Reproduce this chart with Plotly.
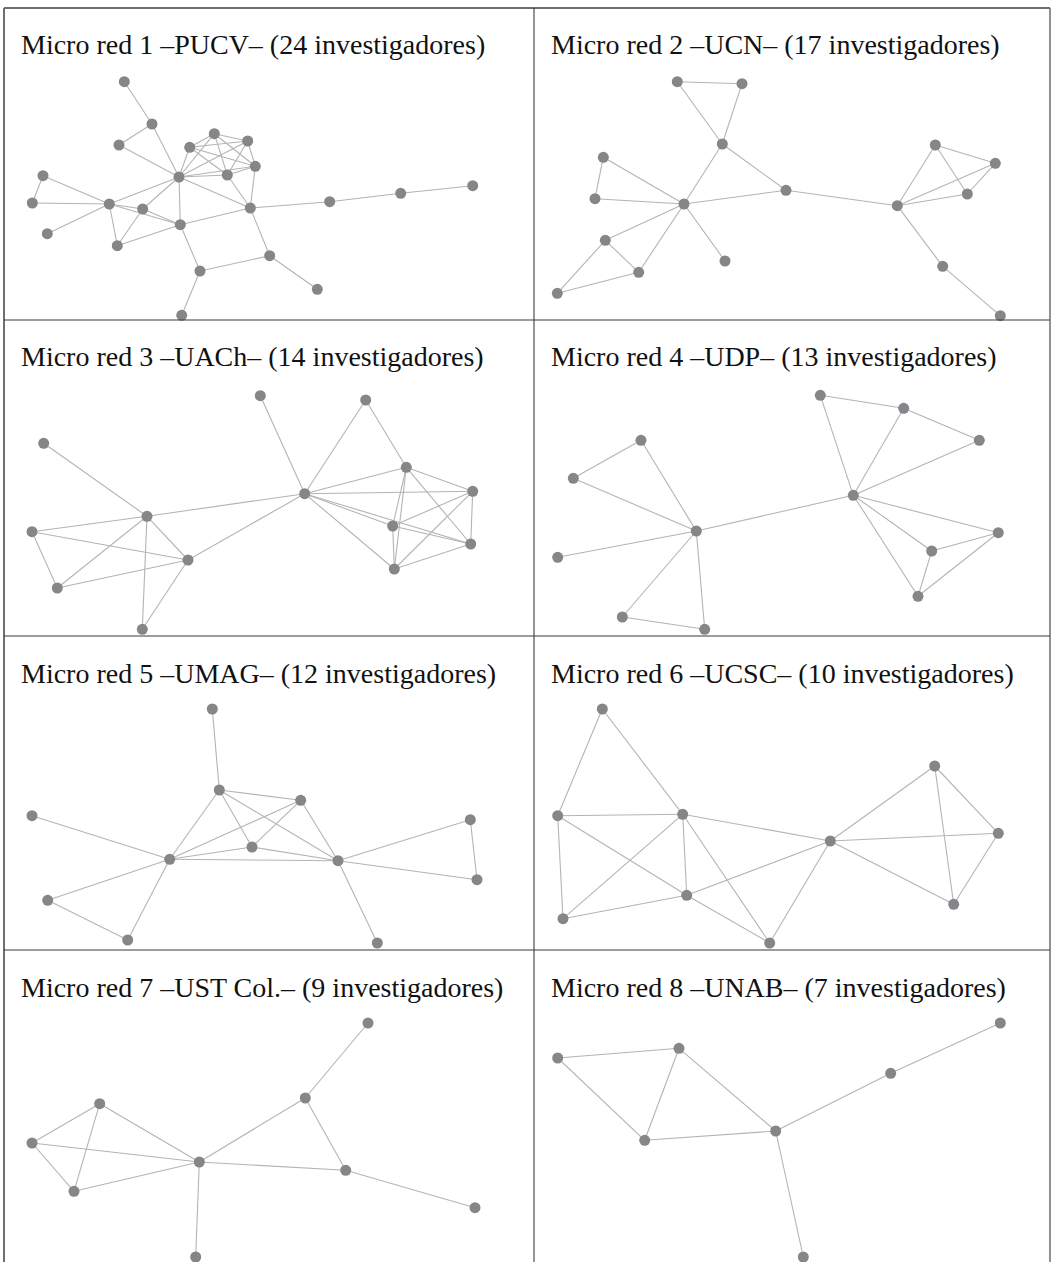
import plotly.graph_objects as go

W, H = 1052, 1262

# Panel titles
titles = [
    "Micro red 1 –PUCV– (24 investigadores)",
    "Micro red 2 –UCN– (17 investigadores)",
    "Micro red 3 –UACh– (14 investigadores)",
    "Micro red 4 –UDP– (13 investigadores)",
    "Micro red 5 –UMAG– (12 investigadores)",
    "Micro red 6 –UCSC– (10 investigadores)",
    "Micro red 7 –UST Col.– (9 investigadores)",
    "Micro red 8 –UNAB– (7 investigadores)",
]

# ---- Network 1 (PUCV) ----
n1_x = [124.3, 152.0, 119.0, 214.3, 247.7, 189.7, 255.3, 179.0, 227.3, 43.0, 32.3, 109.3,
        142.7, 250.3, 329.7, 400.7, 472.7, 47.3, 180.3, 117.3, 269.7, 200.0, 317.3, 181.7]
n1_y = [81.7, 124.0, 145.0, 133.7, 141.0, 147.3, 166.3, 177.0, 175.0, 175.7, 203.0, 204.0,
        209.0, 208.0, 201.7, 193.3, 185.7, 233.7, 224.7, 245.7, 255.7, 271.0, 289.3, 315.3]
n1_edges = [(0, 1), (1, 2), (1, 7), (2, 7), (9, 10), (9, 11), (10, 11), (11, 17), (11, 7),
            (11, 12), (11, 18), (11, 19), (12, 7), (12, 19), (12, 18), (19, 18), (7, 18),
            (7, 13), (7, 5), (7, 3), (7, 4), (7, 8), (7, 6), (5, 3), (5, 4), (5, 6), (5, 8),
            (3, 4), (3, 8), (3, 6), (4, 8), (4, 6), (8, 6), (8, 13), (6, 13), (13, 14),
            (14, 15), (15, 16), (13, 18), (13, 20), (18, 21), (21, 20), (20, 22), (21, 23)]

# ---- Network 2 (UCN) ----
n2_x = [677.3, 742.0, 722.3, 603.3, 595.0, 684.0, 786.0, 897.3, 935.3, 995.3, 967.3,
        605.3, 638.7, 725.0, 557.3, 942.7, 1000.3]
n2_y = [81.7, 83.7, 144.0, 157.3, 198.7, 204.0, 190.3, 205.7, 145.0, 163.3, 194.0,
        240.3, 272.3, 261.0, 293.3, 266.3, 315.7]
n2_edges = [(0, 1), (0, 2), (1, 2), (2, 5), (2, 6), (3, 4), (3, 5), (4, 5), (5, 6), (5, 11),
            (5, 12), (5, 13), (11, 12), (11, 14), (12, 14), (6, 7), (7, 8), (7, 9), (7, 10),
            (8, 9), (8, 10), (9, 10), (7, 15), (15, 16)]

# ---- Network 3 (UACh) ----
n3_x = [260.3, 365.7, 43.7, 406.3, 304.7, 472.7, 147.0, 32.0, 392.7, 470.7, 188.0, 394.3, 57.3, 142.3]
n3_y = [395.7, 400.0, 443.3, 467.3, 493.7, 491.3, 516.3, 531.7, 526.0, 544.0, 560.0, 569.0, 588.0, 629.3]
n3_edges = [(0, 4), (1, 4), (1, 3), (2, 6), (6, 4), (4, 10), (6, 7), (6, 12), (6, 10), (6, 13),
            (7, 12), (7, 10), (12, 10), (10, 13), (4, 3), (4, 5), (4, 8), (4, 9), (4, 11),
            (3, 5), (3, 8), (3, 11), (3, 9), (5, 8), (5, 9), (5, 11), (8, 9), (8, 11), (9, 11)]

# ---- Network 4 (UDP) ----
n4_x = [820.3, 903.7, 979.3, 641.0, 573.3, 853.3, 696.3, 998.3, 931.7, 557.7, 918.0, 622.3, 704.7]
n4_y = [395.3, 408.3, 440.3, 440.3, 478.3, 495.3, 531.0, 532.7, 551.0, 557.3, 596.3, 617.0, 629.3]
n4_edges = [(0, 1), (0, 5), (1, 5), (1, 2), (2, 5), (3, 4), (3, 6), (4, 6), (6, 9), (6, 11),
            (6, 12), (11, 12), (6, 5), (5, 7), (5, 8), (5, 10), (7, 8), (7, 10), (8, 10)]

# ---- Network 5 (UMAG) ----
n5_x = [212.3, 219.3, 300.7, 32.0, 470.3, 252.0, 169.7, 338.0, 477.0, 47.7, 127.7, 377.3]
n5_y = [709.0, 790.0, 800.3, 815.7, 819.7, 847.0, 859.3, 860.7, 879.7, 900.3, 940.0, 943.0]
n5_edges = [(0, 1), (1, 2), (1, 6), (1, 5), (1, 7), (2, 6), (2, 5), (2, 7), (3, 6), (6, 5),
            (6, 7), (5, 7), (6, 9), (6, 10), (9, 10), (7, 4), (7, 8), (4, 8), (7, 11)]

# ---- Network 6 (UCSC) ----
n6_x = [602.3, 557.7, 682.7, 830.3, 934.7, 998.3, 686.7, 563.0, 769.7, 953.7]
n6_y = [709.0, 815.7, 814.3, 841.0, 766.0, 833.3, 895.3, 918.7, 943.0, 904.3]
n6_edges = [(0, 1), (0, 2), (1, 2), (1, 6), (1, 7), (2, 7), (2, 6), (2, 8), (2, 3), (6, 7),
            (6, 3), (6, 8), (8, 3), (3, 4), (3, 5), (3, 9), (4, 5), (4, 9), (5, 9)]

# ---- Network 7 (UST Col.) ----
n7_x = [368.0, 99.7, 305.3, 32.0, 199.3, 345.7, 74.0, 475.0, 195.7]
n7_y = [1023.0, 1103.7, 1098.0, 1143.0, 1162.0, 1170.3, 1191.3, 1207.7, 1257.0]
n7_edges = [(0, 2), (1, 3), (1, 6), (1, 4), (3, 4), (3, 6), (6, 4), (4, 2), (4, 5), (2, 5),
            (5, 7), (4, 8)]

# ---- Network 8 (UNAB) ----
n8_x = [1000.3, 557.7, 679.0, 890.7, 775.7, 644.7, 803.3]
n8_y = [1023.0, 1058.0, 1048.3, 1073.3, 1131.0, 1140.3, 1257.0]
n8_edges = [(0, 3), (3, 4), (1, 2), (1, 5), (2, 5), (2, 4), (5, 4), (4, 6)]

networks = [
    (n1_x, n1_y, n1_edges), (n2_x, n2_y, n2_edges),
    (n3_x, n3_y, n3_edges), (n4_x, n4_y, n4_edges),
    (n5_x, n5_y, n5_edges), (n6_x, n6_y, n6_edges),
    (n7_x, n7_y, n7_edges), (n8_x, n8_y, n8_edges),
]

# Panel frame (page pixels)
col_edges = [4, 534, 1050]
row_edges = [8, 320, 636, 950, 1262]

NODE_COLOR = "#85868a"
EDGE_COLOR = "#b4b4b4"

fig = go.Figure()
layout_axes = {}
annotations = []
for k, (nx, ny, edges) in enumerate(networks):
    r, c = divmod(k, 2)
    x0, x1 = col_edges[c], col_edges[c + 1]
    y0, y1 = row_edges[r], row_edges[r + 1]
    idx = "" if k == 0 else str(k + 1)
    xa, ya = "x" + idx, "y" + idx
    ex, ey = [], []
    for a, b in edges:
        ex += [nx[a], nx[b], None]
        ey += [ny[a], ny[b], None]
    fig.add_trace(go.Scatter(x=ex, y=ey, mode="lines", xaxis=xa, yaxis=ya,
                             line=dict(color=EDGE_COLOR, width=1.1),
                             hoverinfo="skip", showlegend=False, cliponaxis=False))
    fig.add_trace(go.Scatter(x=nx, y=ny, mode="markers", xaxis=xa, yaxis=ya,
                             marker=dict(color=NODE_COLOR, size=11, line=dict(width=0)),
                             showlegend=False, cliponaxis=False))
    layout_axes["xaxis" + idx] = dict(domain=[x0 / W, x1 / W], range=[x0, x1],
                                      visible=False, fixedrange=True)
    layout_axes["yaxis" + idx] = dict(domain=[1 - y1 / H, 1 - y0 / H], range=[y1, y0],
                                      visible=False, fixedrange=True)
    annotations.append(dict(text=titles[k], xref="paper", yref="paper",
                            x=(x0 + 15) / W, y=1 - (y0 + 37) / H,
                            xanchor="left", yanchor="middle", showarrow=False,
                            font=dict(family="Liberation Serif", size=28, color="#111111")))

shapes = []
shapes.append(dict(type="line", xref="paper", yref="paper", x0=4 / W, x1=1050 / W,
                   y0=1 - 8 / H, y1=1 - 8 / H, line=dict(color="#6e6e6e", width=2)))
shapes.append(dict(type="line", xref="paper", yref="paper", x0=4 / W, x1=4 / W,
                   y0=0, y1=1 - 8 / H, line=dict(color="#6e6e6e", width=2)))
shapes.append(dict(type="line", xref="paper", yref="paper", x0=1050 / W, x1=1050 / W,
                   y0=0, y1=1 - 8 / H, line=dict(color="#6e6e6e", width=1.5)))
shapes.append(dict(type="line", xref="paper", yref="paper", x0=534 / W, x1=534 / W,
                   y0=0, y1=1 - 8 / H, line=dict(color="#2a2a2a", width=1)))
for yy in row_edges[1:-1]:
    shapes.append(dict(type="line", xref="paper", yref="paper", x0=4 / W, x1=1050 / W,
                       y0=1 - yy / H, y1=1 - yy / H, line=dict(color="#3a3a3a", width=1)))

fig.update_layout(width=W, height=H, margin=dict(l=0, r=0, t=0, b=0),
                  paper_bgcolor="white", plot_bgcolor="white",
                  annotations=annotations, shapes=shapes, **layout_axes)

fig.write_html("out.html", config={"displayModeBar": False},
               post_script="document.body.style.margin='0';document.body.style.overflow='hidden';")
